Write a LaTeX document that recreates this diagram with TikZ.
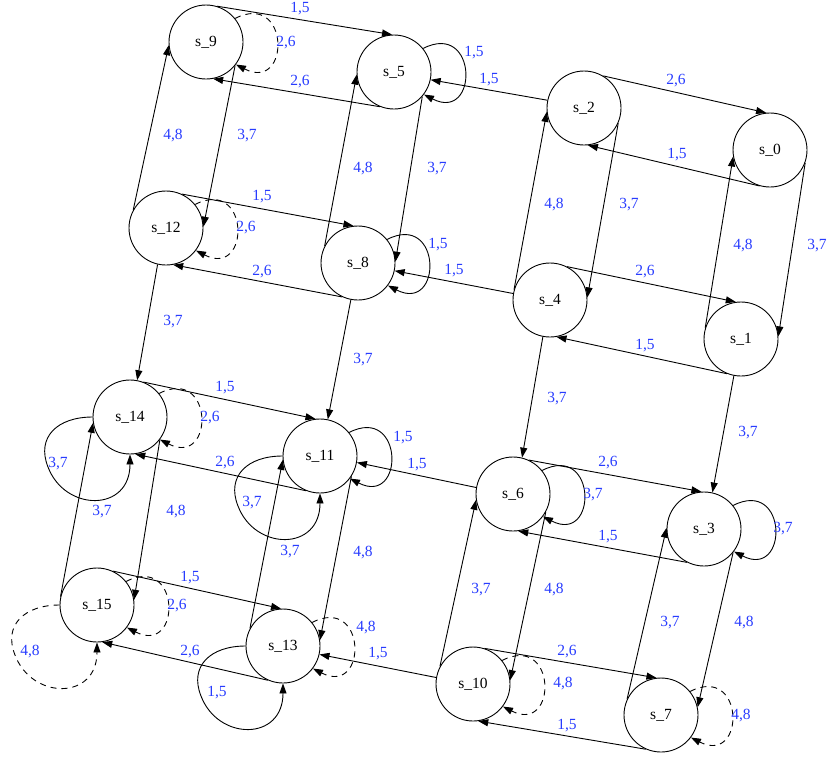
\documentclass[tikz,border=0pt]{standalone}
\usepackage{fontspec}
\setmainfont{Liberation Serif}
\usetikzlibrary{arrows.meta,calc}
\definecolor{lblue}{RGB}{40,60,255}

\tikzset{
  st/.style={circle, draw, line width=0.9pt, minimum size=74pt, inner sep=0pt,
             font=\fontsize{15.5}{18}\selectfont},
  e/.style={line width=0.9pt, -{Triangle[length=10pt,width=7pt]}},
  d/.style={e, dash pattern=on 6pt off 5pt},
  lb/.style={text=lblue, inner sep=0pt, font=\fontsize{15.5}{18}\selectfont},
}

% loop on the right side of a state
\newcommand\rightloop[4]{%
  \draw[#1] (#2.39) .. controls +(55,-28) and +(55,28) .. (#2.-37)
    node[lb] (#2-rl) at (#3) {#4};}
% loop leaving a state on the left and coming back from below
\newcommand\bottomloop[4]{%
  \draw[#1] (#2.180) .. controls +(-35,0) and ($(#2)+(-94,20)$) .. ($(#2)+(-82,50)$)
    .. controls ($(#2)+(-65,95)$) and +(0,58) .. (#2.270)
    node[lb] (#2-bl) at (#3) {#4};}

\begin{document}
\begin{tikzpicture}[x=1pt,y=-1pt]
\useasboundingbox (0,0) rectangle (829,758);

% states
\node[st] (s9)  at (206,42)  {s\_9};
\node[st] (s5)  at (394,72)  {s\_5};
\node[st] (s2)  at (584,108) {s\_2};
\node[st] (s0)  at (770,150) {s\_0};
\node[st] (s12) at (166,228) {s\_12};
\node[st] (s8)  at (358,263) {s\_8};
\node[st] (s4)  at (550,300) {s\_4};
\node[st] (s1)  at (741,339) {s\_1};
\node[st] (s14) at (130,417) {s\_14};
\node[st] (s11) at (320,456) {s\_11};
\node[st] (s6)  at (513,494) {s\_6};
\node[st] (s3)  at (704,529) {s\_3};
\node[st] (s15) at (97,605)  {s\_15};
\node[st] (s13) at (283,646) {s\_13};
\node[st] (s10) at (473,684) {s\_10};
\node[st] (s7)  at (661,715) {s\_7};

% top row
\draw[e] (s9.73)   -- (s5.93)    node[lb] (a1) at (300,9)   {1,5};
\draw[e] (s5.248)  -- (s9.-79)   node[lb] (a2) at (300,82)  {2,6};
\draw[e] (s2.168)  -- (s5.-12)   node[lb] (a3) at (489,80)  {1,5};
\draw[e] (s2.59)   -- (s0.96)    node[lb] (a4) at (676,81)  {2,6};
\draw[e] (s0.254)  -- (s2.-84)   node[lb] (a5) at (677,155) {1,5};
\rightloop{d}{s9}{286,43}{2,6}
\rightloop{e}{s5}{474,53}{1,5}

% first to second row
\draw[e] (s12.151) -- (s9.-175)  node[lb] (b1) at (173,136) {4,8};
\draw[e] (s9.-39)  -- (s12.2)    node[lb] (b2) at (247,136) {3,7};
\draw[e] (s8.153)  -- (s5.-176)  node[lb] (b3) at (363,169) {4,8};
\draw[e] (s5.-41)  -- (s8.2)     node[lb] (b4) at (437,169) {3,7};
\draw[e] (s4.164)  -- (s2.-174)  node[lb] (b5) at (554,205) {4,8};
\draw[e] (s2.-24)  -- (s4.4)     node[lb] (b6) at (629,205) {3,7};
\draw[e] (s1.163)  -- (s0.-170)  node[lb] (b7) at (743,246) {4,8};
\draw[e] (s0.-20)  -- (s1.4)     node[lb] (b8) at (817,246) {3,7};

% second row
\draw[e] (s12.65)  -- (s8.97)    node[lb] (c1) at (262,197) {1,5};
\draw[e] (s8.245)  -- (s12.-79)  node[lb] (c2) at (262,272) {2,6};
\draw[e] (s4.170)  -- (s8.-12)   node[lb] (c3) at (454,271) {1,5};
\draw[e] (s4.63)   -- (s1.98)    node[lb] (c4) at (645,272) {2,6};
\draw[e] (s1.248)  -- (s4.-80)   node[lb] (c5) at (645,346) {1,5};
\rightloop{d}{s12}{246,228}{2,6}
\rightloop{e}{s8}{438,245}{1,5}

% second to third row
\draw[e] (s12.257) -- (s14.79)   node[lb] (d1) at (173,322) {3,7};
\draw[e] (s8.259)  -- (s11.78)   node[lb] (d2) at (363,360) {3,7};
\draw[e] (s4.259)  -- (s6.76)    node[lb] (d3) at (557,399) {3,7};
\draw[e] (s1.259)  -- (s3.77)    node[lb] (d4) at (748,433) {3,7};

% third row
\draw[e] (s14.69)  -- (s11.97)   node[lb] (f1) at (225,388) {1,5};
\draw[e] (s11.248) -- (s14.-82)  node[lb] (f2) at (225,463) {2,6};
\draw[e] (s6.170)  -- (s11.-10)  node[lb] (f3) at (417,465) {1,5};
\draw[e] (s6.65)   -- (s3.94)    node[lb] (f4) at (608,463) {2,6};
\draw[e] (s3.243)  -- (s6.-82)   node[lb] (f5) at (608,537) {1,5};
\rightloop{d}{s14}{210,418}{2,6}
\rightloop{e}{s11}{403,438}{1,5}
\rightloop{e}{s6}{593,495}{3,7}
\rightloop{e}{s3}{783,529}{3,7}
\bottomloop{e}{s14}{58,464}{3,7}
\bottomloop{e}{s11}{252,503}{3,7}

% third to fourth row
\draw[e] (s15.167) -- (s14.-171) node[lb] (g1) at (102,512) {3,7};
\draw[e] (s14.-37) -- (s15.8)    node[lb] (g2) at (176,512) {4,8};
\draw[e] (s13.152) -- (s11.-174) node[lb] (g3) at (290,552) {3,7};
\draw[e] (s11.-33) -- (s13.9)    node[lb] (g4) at (363,553) {4,8};
\draw[e] (s10.152) -- (s6.-171)  node[lb] (g5) at (481,590) {3,7};
\draw[e] (s6.-29)  -- (s10.6)    node[lb] (g6) at (554,590) {4,8};
\draw[e] (s7.155)  -- (s3.178)   node[lb] (g7) at (670,623) {3,7};
\draw[e] (s3.-39)  -- (s7.12)    node[lb] (g8) at (744,623) {4,8};

% fourth row
\draw[e] (s15.65)  -- (s13.93)   node[lb] (h1) at (190,578) {1,5};
\draw[e] (s13.246) -- (s15.-82)  node[lb] (h2) at (190,652) {2,6};
\draw[e] (s10.170) -- (s13.-13)  node[lb] (h3) at (378,654) {1,5};
\draw[e] (s10.72)  -- (s7.97)    node[lb] (h4) at (567,652) {2,6};
\draw[e] (s7.246)  -- (s10.-82)  node[lb] (h5) at (567,726) {1,5};
\rightloop{d}{s15}{177,606}{2,6}
\rightloop{d}{s13}{366,628}{4,8}
\rightloop{d}{s10}{563,684}{4,8}
\rightloop{d}{s7}{741,716}{4,8}
\bottomloop{d}{s15}{30,652}{4,8}
\bottomloop{e}{s13}{217,693}{1,5}

\end{tikzpicture}
\end{document}
